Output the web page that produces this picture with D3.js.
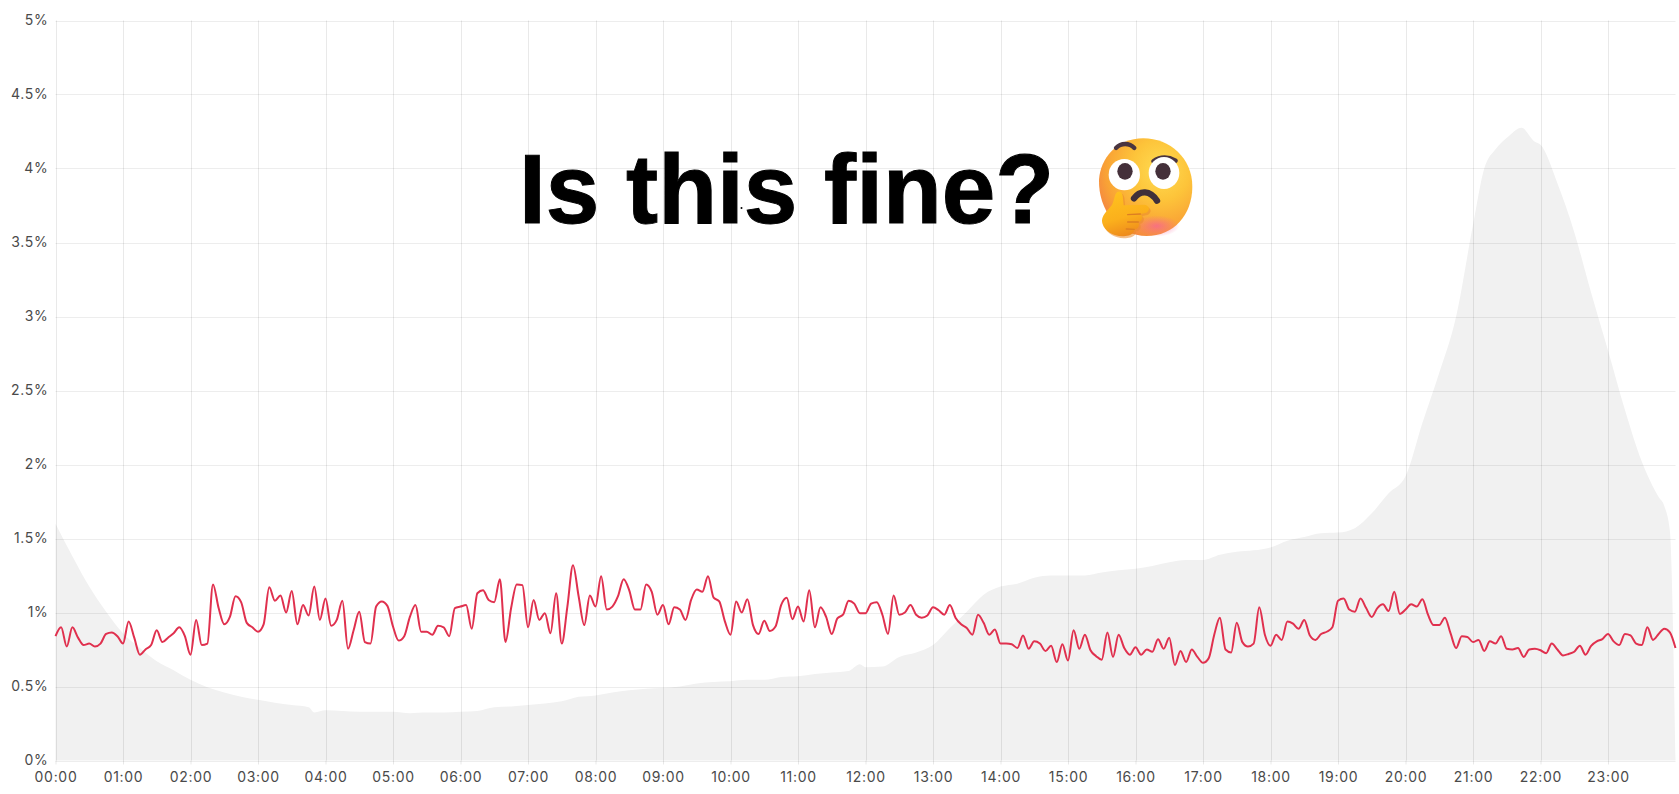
<!DOCTYPE html>
<html><head><meta charset="utf-8">
<script src="https://cdn.jsdelivr.net/npm/d3@7/dist/d3.min.js"></script>
<style>
html,body{margin:0;padding:0;background:#fff;overflow:hidden}
svg{display:block}
text{font-family:Inter,"Noto Sans",sans-serif}
</style></head><body>
<svg id="c" width="1679" height="794"></svg>
<script>
// ---- data ----
const hourLabels = ["00:00","01:00","02:00","03:00","04:00","05:00","06:00","07:00","08:00","09:00","10:00","11:00","12:00","13:00","14:00","15:00","16:00","17:00","18:00","19:00","20:00","21:00","22:00","23:00"];
const percentTicks = [0,0.5,1,1.5,2,2.5,3,3.5,4,4.5,5];
// red series: one value every 5 minutes, 00:00 to 24:00
const redValues = [
.84,.90,.77,.90,.83,.78,.79,.77,.79,.855,.865,.84,
.79,.94,.83,.715,.75,.78,.88,.80,.83,.86,.90,.84,
.715,.95,.78,.79,1.19,1.03,.92,.97,1.11,1.07,.93,.90,
.87,.92,1.17,1.08,1.115,1.0,1.145,.92,1.05,.98,1.175,.95,
1.095,.91,.95,1.08,.755,.88,1.005,.80,.79,1.04,1.075,1.045,
.905,.81,.84,.97,1.05,.87,.87,.85,.91,.90,.84,1.03,
1.04,1.05,.89,1.13,1.15,1.085,1.07,1.225,.80,1.03,1.19,1.185,
.90,1.085,.95,.995,.86,1.13,.79,1.04,1.32,1.11,.915,1.115,
1.04,1.245,1.02,1.04,1.11,1.225,1.15,1.02,1.02,1.19,1.14,.985,
1.05,.92,1.035,1.02,.95,1.085,1.155,1.14,1.245,1.10,1.075,.94,
.85,1.075,1.0,1.09,.915,.855,.945,.875,.905,1.05,1.10,.955,
1.04,.94,1.15,.90,1.035,.97,.855,.96,.985,1.08,1.06,.995,
.995,1.06,1.07,.985,.855,1.115,.985,1.0,1.05,.985,.965,.98,
1.035,1.015,.985,1.05,.965,.92,.895,.85,.985,.93,.85,.885,
.79,.79,.785,.76,.845,.755,.805,.79,.74,.775,.665,.785,
.675,.88,.755,.85,.745,.705,.68,.865,.70,.85,.76,.715,
.765,.715,.75,.735,.82,.755,.83,.645,.74,.665,.75,.70,
.66,.69,.85,.965,.75,.73,.93,.80,.77,.79,1.035,.85,
.775,.85,.815,.94,.925,.89,.95,.845,.815,.855,.87,.90,
1.08,1.095,1.02,1.005,1.095,1.03,.97,1.03,1.055,1.01,1.14,.99,
1.02,1.055,1.04,1.09,.985,.915,.915,.965,.86,.76,.84,.835,
.80,.815,.74,.805,.79,.84,.755,.75,.76,.70,.75,.755,
.745,.725,.79,.75,.71,.72,.735,.775,.715,.775,.805,.82,
.855,.805,.78,.855,.845,.79,.78,.90,.815,.855,.89,.865,
.76];
// grey series: sampled by hand, minutes past midnight and percent
const greyMinutes = [0,15,30,45,60,75,90,105,120,135,150,165,180,195,210,225,230,240,255,270,285,300,315,330,345,360,375,390,405,420,435,450,465,480,495,510,525,540,555,570,585,600,615,630,645,660,675,690,705,715,720,735,750,765,780,795,810,825,840,855,870,885,900,915,930,945,960,975,990,1005,1020,1035,1050,1065,1080,1095,1110,1125,1140,1155,1170,1185,1200,1215,1230,1245,1260,1270,1280,1292,1303,1315,1320,1335,1350,1365,1380,1395,1410,1425,1430,1435,1440];
const greyValues = [1.60,1.38,1.175,1.005,.86,.76,.67,.61,.545,.495,.46,.43,.41,.39,.375,.36,.325,.34,.335,.33,.33,.33,.32,.325,.325,.33,.335,.36,.365,.375,.385,.40,.43,.44,.46,.475,.485,.49,.50,.52,.53,.535,.545,.545,.565,.57,.585,.595,.605,.65,.63,.635,.70,.73,.78,.895,1.005,1.12,1.175,1.195,1.235,1.25,1.25,1.25,1.27,1.285,1.295,1.315,1.34,1.355,1.355,1.39,1.41,1.42,1.44,1.485,1.51,1.535,1.54,1.57,1.67,1.805,1.92,2.28,2.62,3.0,3.62,4.0,4.13,4.22,4.275,4.18,4.16,3.90,3.57,3.16,2.77,2.37,2.02,1.78,1.72,1.55,0];

// ---- layout ----
const m = {left:55.5, right:1675.5, top:20.5, bottom:760.5};
const svg = d3.select("#c");
const x = d3.scaleLinear().domain([0,1440]).range([m.left,m.right]);
const y = d3.scaleLinear().domain([0,5]).range([m.bottom,m.top]);
const hourMinutes = hourLabels.map((_,i)=>i*60);
const redPts = redValues.map((v,i)=>[i*5,v]);
const greyPts = greyMinutes.map((t,i)=>[t,greyValues[i]]);

// grey area
svg.append("path").datum(greyPts)
  .attr("fill","#f1f1f1")
  .attr("d",d3.area().x(d=>x(d[0])).y0(y(0)).y1(d=>y(d[1])).curve(d3.curveMonotoneX));

// axes and grid
const xAxis = d3.axisBottom(x).tickValues(hourMinutes).tickFormat((d,i)=>hourLabels[i]).tickSize(4).tickPadding(8);
const gx = svg.append("g").attr("transform",`translate(0,${m.bottom})`).call(xAxis);
gx.select(".domain").remove();
gx.selectAll("line").attr("stroke","rgba(0,0,0,.09)");
gx.selectAll("text").attr("fill","#4a4a4a").attr("font-size",14).attr("letter-spacing",".7px");

svg.append("g").selectAll("line").data(hourMinutes).join("line")
  .attr("x1",d=>Math.round(x(d))+.5).attr("x2",d=>Math.round(x(d))+.5)
  .attr("y1",m.top).attr("y2",m.bottom)
  .attr("stroke","rgba(0,0,0,.085)");
const gy = svg.append("g").attr("transform",`translate(${m.left},0)`)
  .call(d3.axisLeft(y).tickValues(percentTicks).tickFormat(d=>d+"%").tickSize(0).tickPadding(7));
gy.select(".domain").remove();
gy.selectAll("text").attr("fill","#4a4a4a").attr("font-size",14).attr("letter-spacing",".7px");
svg.append("g").selectAll("line").data(percentTicks).join("line")
  .attr("x1",m.left).attr("x2",m.right)
  .attr("y1",d=>Math.round(y(d))+.5).attr("y2",d=>Math.round(y(d))+.5)
  .attr("stroke","rgba(0,0,0,.07)");

// red line
svg.append("path").datum(redPts)
  .attr("fill","none").attr("stroke","#e0304e").attr("stroke-width",2)
  .attr("d",d3.line().x(d=>x(d[0])).y(d=>y(d[1])).curve(d3.curveMonotoneX));

// overlay title
svg.append("text").attr("transform","translate(519,223) scale(.983,1)")
  .attr("font-size",98).attr("font-weight",700)
  .style("font-family","'Liberation Sans',Arial,sans-serif")
  .attr("fill","#000").attr("stroke","#000").attr("stroke-width",1).text("Is this fine?");
svg.append("circle").attr("cx",741.5).attr("cy",208).attr("r",1).attr("fill","#000");

// thinking-face sticker, drawn in a 360-unit box
const defs = svg.append("defs");
const rg = defs.append("radialGradient").attr("id","face").attr("cx",.66).attr("cy",.32).attr("r",.78);
[[0,"#ffdc52"],[.4,"#fdc43a"],[.75,"#f9a335"],[1,"#f37d45"]].forEach(s=>rg.append("stop").attr("offset",s[0]).attr("stop-color",s[1]));
const pg = defs.append("radialGradient").attr("id","blush").attr("cx",.5).attr("cy",.5).attr("r",.5);
pg.append("stop").attr("offset",0).attr("stop-color","#f7609a").attr("stop-opacity",.75);
pg.append("stop").attr("offset",1).attr("stop-color","#f7609a").attr("stop-opacity",0);
const hg = defs.append("linearGradient").attr("id","hand").attr("x1",.2).attr("y1",0).attr("x2",.5).attr("y2",1);
hg.append("stop").attr("offset",0).attr("stop-color","#ffc21f");
hg.append("stop").attr("offset",.6).attr("stop-color","#fbb01c");
hg.append("stop").attr("offset",1).attr("stop-color","#ee8a1c");
const e = svg.append("g").attr("transform","translate(1085,130) scale(.3333)");
e.append("path").attr("fill","url(#face)")
  .attr("d","M42 150C46 85 95 25 175 25C255 25 322 85 322 170C322 255 265 318 185 318C100 318 40 240 42 150Z");
e.append("ellipse").attr("cx",215).attr("cy",288).attr("rx",68).attr("ry",32).attr("fill","url(#blush)");
e.append("path").attr("fill","none").attr("stroke","#4a3540").attr("stroke-width",13).attr("stroke-linecap","round")
  .attr("d","M93 54C108 38 133 38 148 54");
e.append("path").attr("fill","none").attr("stroke","#4a3540").attr("stroke-width",13).attr("stroke-linecap","round")
  .attr("d","M205 94C225 80 250 80 272 92");
e.append("ellipse").attr("cx",118).attr("cy",134).attr("rx",47).attr("ry",47).attr("fill","#fff");
e.append("ellipse").attr("cx",237).attr("cy",129).attr("rx",46).attr("ry",48).attr("fill","#fff");
e.append("ellipse").attr("cx",120).attr("cy",124).attr("rx",23).attr("ry",25).attr("fill","#44303a");
e.append("ellipse").attr("cx",234).attr("cy",124).attr("rx",23).attr("ry",25).attr("fill","#44303a");
e.append("path").attr("fill","none").attr("stroke","#40303a").attr("stroke-width",19).attr("stroke-linecap","round")
  .attr("d","M147 205C165 180 195 180 216 212");
const handShape = "M97 186C108 180 114 192 114 206L116 226L176 224C196 224 198 246 178 250L166 252C176 258 172 274 160 276C166 288 158 298 148 298C148 312 134 318 122 318C92 322 60 308 52 280C46 258 70 240 80 226C88 214 88 192 97 186Z";
e.append("path").attr("fill","#e98a2c").attr("opacity",.55).attr("transform","translate(5,6)").attr("d",handShape);
e.append("path").attr("fill","url(#hand)").attr("d",handShape);
e.append("path").attr("fill","none").attr("stroke","#dd7f22").attr("stroke-width",4).attr("stroke-linecap","round")
  .attr("d","M128 254L166 252M128 276L160 276M124 297L148 298");
</script>
</body></html>
